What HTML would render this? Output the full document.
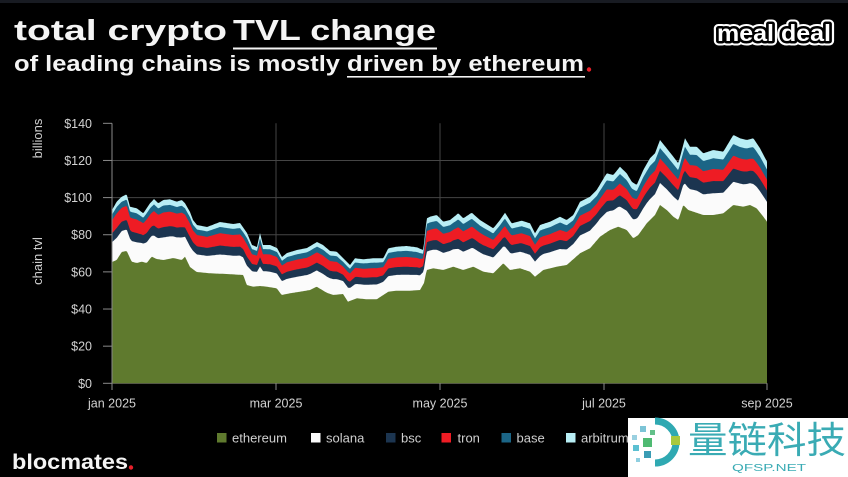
<!DOCTYPE html>
<html><head><meta charset="utf-8">
<style>
html,body{margin:0;padding:0;background:#000;}
svg{display:block;}
text{font-family:"Liberation Sans","Noto Sans CJK SC",sans-serif;}
</style></head>
<body>
<svg id="s" width="848" height="477" viewBox="0 0 848 477" xmlns="http://www.w3.org/2000/svg">
<rect x="0" y="0" width="848" height="477" fill="#000"/>
<rect x="0" y="0" width="848" height="3" fill="#181b22"/>

<!-- Title -->
<text x="14" y="40" font-size="29" font-weight="bold" fill="#f4f4f4" textLength="213" lengthAdjust="spacingAndGlyphs">total crypto</text>
<text x="233" y="40" font-size="29" font-weight="bold" fill="#f4f4f4" textLength="203" lengthAdjust="spacingAndGlyphs">TVL change</text>
<rect x="233" y="47.5" width="204" height="2" fill="#f4f4f4"/>
<text x="14" y="71" font-size="22" font-weight="bold" fill="#f4f4f4" textLength="326" lengthAdjust="spacingAndGlyphs">of leading chains is mostly</text>
<text x="347" y="71" font-size="22" font-weight="bold" fill="#f4f4f4" textLength="237" lengthAdjust="spacingAndGlyphs">driven by ethereum</text>
<rect x="347" y="76" width="238" height="1.6" fill="#f4f4f4"/>
<circle cx="589" cy="69.5" r="2.2" fill="#e8202a"/>

<!-- meal deal logo -->
<g font-size="23" font-weight="bold">
<text x="717" y="41" textLength="114" lengthAdjust="spacingAndGlyphs" fill="#fff" stroke="#fff" stroke-width="9" stroke-linejoin="round">meal deal</text>
<text x="717" y="41" textLength="114" lengthAdjust="spacingAndGlyphs" fill="#000" stroke="#000" stroke-width="5" stroke-linejoin="round">meal deal</text>
<text x="717" y="41" textLength="114" lengthAdjust="spacingAndGlyphs" fill="#fff">meal deal</text>
</g>

<!-- Axis labels -->
<text transform="translate(42,138.5) rotate(-90)" font-size="13" fill="#cfcfcf" text-anchor="middle">billions</text>
<text transform="translate(42,261) rotate(-90)" font-size="13" fill="#cfcfcf" text-anchor="middle">chain tvl</text>

<g id="grid" stroke="#454545" stroke-width="1"></g>
<g id="areas"></g>
<g id="axes" stroke="#8a8a8a" stroke-width="1"></g>
<g id="ylabels" font-size="12.5" fill="#d2d2d2" text-anchor="end"></g>
<g id="xlabels" font-size="12.5" fill="#d2d2d2" text-anchor="middle"></g>

<!-- Legend -->
<g font-size="13" fill="#cfcfcf">
<rect x="217" y="433" width="9.5" height="9.5" fill="#5f7a2e"/><text x="232" y="442.5">ethereum</text>
<rect x="311" y="433" width="9.5" height="9.5" fill="#fbfbfb"/><text x="326" y="442.5">solana</text>
<rect x="386" y="433" width="9.5" height="9.5" fill="#1c3550"/><text x="401" y="442.5">bsc</text>
<rect x="441.5" y="433" width="9.5" height="9.5" fill="#ee1c24"/><text x="457.5" y="442.5">tron</text>
<rect x="501.5" y="433" width="9.5" height="9.5" fill="#1b6586"/><text x="516.5" y="442.5">base</text>
<rect x="566" y="433" width="9.5" height="9.5" fill="#b8eef5"/><text x="581" y="442.5">arbitrum</text>
</g>

<!-- blocmates -->
<text x="12" y="469" font-size="21" font-weight="bold" fill="#f4f4f4" textLength="116" lengthAdjust="spacingAndGlyphs">blocmates</text>
<circle cx="131" cy="467.5" r="2.2" fill="#e8202a"/>

<!-- watermark -->
<rect x="628" y="418" width="220" height="59" fill="#ffffff"/>
<path d="M655,421 A21,21 0 0 1 655,463" fill="none" stroke="#2fa9b2" stroke-width="7"/>
<rect x="671" y="436" width="9" height="9" fill="#a9c83e"/>
<rect x="640" y="426" width="6" height="6" fill="#7cc4d6"/>
<rect x="632" y="435" width="5" height="5" fill="#9ad0e0"/>
<rect x="643" y="438" width="9" height="9" fill="#4fba72"/>
<rect x="633" y="445" width="6" height="6" fill="#5cc0d2"/>
<rect x="644" y="451" width="7" height="7" fill="#3a9cb4"/>
<rect x="636" y="458" width="4" height="4" fill="#8fcfe0"/>
<rect x="650" y="430" width="5" height="5" fill="#63c08a"/>
<text x="688" y="453" font-size="37" fill="#3aabb4" textLength="158" lengthAdjust="spacingAndGlyphs" font-family="'Noto Sans CJK SC',sans-serif">量链科技</text>
<text x="732" y="471" font-size="10" fill="#3aabb4" textLength="74" lengthAdjust="spacingAndGlyphs">QFSP.NET</text>
</svg>

<script>
(function(){
var NS="http://www.w3.org/2000/svg";
function el(tag,attrs,parent,txt){var e=document.createElementNS(NS,tag);for(var k in attrs)e.setAttribute(k,attrs[k]);if(txt!==undefined)e.textContent=txt;parent.appendChild(e);return e;}
var grid=document.getElementById('grid'),axes=document.getElementById('axes'),yl=document.getElementById('ylabels'),xl=document.getElementById('xlabels'),areas=document.getElementById('areas');
var y0=383.3,ppb=1.857;
for(var v=0;v<=140;v+=20){
  var y=y0-v*ppb;
  if(v<140) el('line',{x1:112,y1:y,x2:767,y2:y},grid);
  el('line',{x1:103,y1:y,x2:112,y2:y},axes);
  el('text',{x:92,y:y+4.5},yl,'$'+v);
}
var xsG=[112,276,440,604,767],labs=['jan 2025','mar 2025','may 2025','jul 2025','sep 2025'];
for(var i=0;i<xsG.length;i++){
  if(i>0 && i<4) el('line',{x1:xsG[i],y1:123.3,x2:xsG[i],y2:383.3},grid);
  el('line',{x1:xsG[i],y1:383.3,x2:xsG[i],y2:390},axes);
  el('text',{x:xsG[i],y:407.5},xl,labs[i]);
}
el('line',{x1:112,y1:123.3,x2:112,y2:383.3},axes);

var A=[[112,210],[116.7,201.7],[121.7,196.7],[126.7,194.3],[130,206.7],[136.7,208.3],[143.3,213.3],[150,203.3],[154,199],[158.3,203.3],[163.3,200],[170,199.3],[176.7,201.7],[181.7,200],[185,203.3],[190,212],[193,220],[197,225],[207,227],[220,222],[233,224],[240,223],[247,233],[252,245],[257,247],[260,233],[263,245],[270,245],[277,248],[282,257],[287,253],[297,250],[307,248],[317,242],[323,245],[330,251],[336.7,251.7],[345,260],[350,265],[355,258.3],[363.3,259.3],[373.3,258.3],[383.3,258.3],[388.3,248.3],[396.7,246.7],[406.7,246],[416.7,247.3],[423.3,250],[426.7,218.3],[430,216.7],[436.7,215],[443.3,221.7],[450,220],[458.3,213.3],[463.3,218.3],[471.7,212.7],[480,220],[493.3,228.3],[500,220],[505,212.7],[511.7,223.3],[521.7,220.7],[530,223.3],[535,233.3],[540,225],[550,221.7],[560,216.7],[566.7,220],[573.3,215],[580,201.7],[590,196.7],[596.7,190],[606.7,173.3],[613.3,175],[620,166.7],[626.7,173.3],[631.7,181.7],[636.7,185],[643.3,170],[650,158.3],[655,153.3],[660,140],[666.7,148.3],[673.3,156.7],[678.3,163.3],[685,138.3],[690,146.7],[696.7,146.7],[703.3,153.3],[713.3,150],[723.3,151.7],[733.3,135],[740,138.3],[746.7,140],[753.3,138.3],[760,148.3],[767,161.7]];
var E=[[112,262],[116.7,260],[121.7,252],[126.7,251],[131.7,261.7],[136.7,263],[141.7,261.7],[146.7,263],[151.7,256.7],[156.7,259],[163.3,260],[173.3,258],[181.7,260],[185,256.7],[190,267],[196.7,272],[210,273.3],[226.7,274],[243.3,275],[246.7,285],[253.3,286.7],[260,286],[266.7,286.7],[276.7,288.3],[281.7,295],[290,293.3],[300,291.7],[310,290],[316.7,286.7],[326.7,292.7],[333.3,295],[343,294],[348,301.7],[356.7,298.3],[366.7,299.3],[376.7,299.3],[383.3,295],[388.3,291.7],[396.7,290.7],[410,290.7],[420,290],[424,283],[426.7,270],[433.3,268.3],[443.3,270],[453.3,266.7],[463.3,270],[473.3,266.7],[483.3,271.7],[493.3,273.3],[503.3,263.3],[510,270],[520,268.3],[530,271.7],[535,276.7],[543.3,270],[556.7,266.7],[566.7,265],[580,253.3],[590,248.3],[600,236.7],[610,230],[618.3,226.7],[626.7,230],[633.3,238.3],[638.3,235],[646.7,223.3],[655,215],[660,205],[666.7,210],[673.3,216.7],[678.3,220],[683.3,205],[688.3,210],[693.3,211.7],[703.3,215],[713.3,215],[723.3,213.3],[733.3,205],[743.3,206.7],[750,205],[756.7,208.3],[763.3,216.7],[767,221.7]];
function interp(arr,x){for(var i=0;i<arr.length-1;i++){if(x<=arr[i+1][0]){var t=(x-arr[i][0])/(arr[i+1][0]-arr[i][0]);return arr[i][1]+t*(arr[i+1][1]-arr[i][1]);}}return arr[arr.length-1][1];}
var xs=[];for(var x=112;x<767;x+=1)xs.push(x);xs.push(767);
var fr0=[0,.09,.20,.45,.62,1],fr1=[0,.13,.30,.48,.67,1];
var cols=['#b8eef5','#1b6586','#ee1c24','#1c3550','#fbfbfb','#5f7a2e'];
for(var k=0;k<6;k++){
  var d='M112,383.3';
  for(var j=0;j<xs.length;j++){
    var xx=xs[j],a=interp(A,xx),e=interp(E,xx),t=(xx-112)/655,f=fr0[k]+(fr1[k]-fr0[k])*t;
    d+=' L'+xx.toFixed(1)+','+(a+f*(e-a)).toFixed(1);
  }
  d+=' L767,383.3 Z';
  el('path',{d:d,fill:cols[k]},areas);
}
})();
</script>
</body></html>
